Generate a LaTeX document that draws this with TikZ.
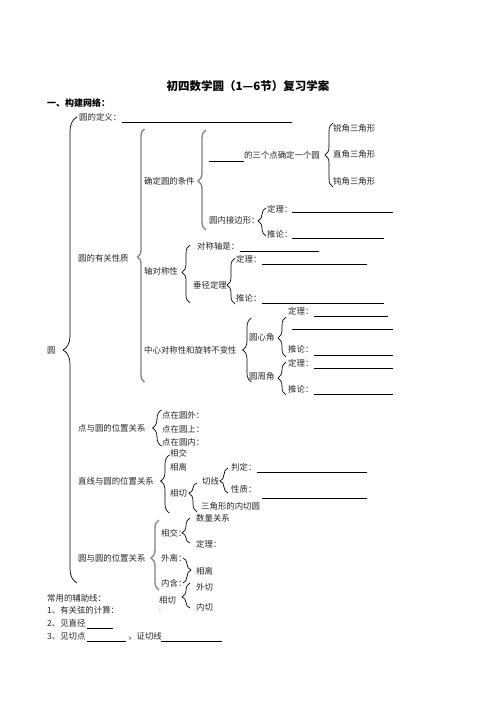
\documentclass[tikz,border=0pt]{standalone}
\usepackage{fontspec}
\setmainfont{Liberation Serif}
\newfontfamily\cjk{Noto Sans CJK SC}
\usetikzlibrary{decorations.pathreplacing}
\newcommand\Br[6][brc]{\draw[#1=#6,decoration={aspect=#5}] (#2,#4) -- (#2,#3);}
\begin{document}
\begin{tikzpicture}[x=1pt,y=-1pt,
  txt/.style={anchor=west,inner sep=0pt,font=\cjk\fontsize{8.4}{10}\selectfont,text=black!85},
  blank/.style={line width=0.9pt},
  brc/.style={decorate,decoration={brace,amplitude=#1},line width=0.7pt},
  gbrc/.style={brc=#1,draw=gray,line width=1.3pt}]
\useasboundingbox[fill=white] (0,0) rectangle (496,702);
% title
\node[inner sep=0pt,font=\cjk\bfseries\fontsize{11.5}{14}\selectfont] (title) at (248,86) {初四数学圆（1—6节）复习学案};
\node[txt,font=\cjk\bfseries\fontsize{9}{11}\selectfont,text=black] (head) at (47,103) {一、构建网络：};
% root
\node[txt] (yuan) at (47,350) {圆};
\Br{77}{117}{583}{0.5}{14}
% level 1
\node[txt] (def) at (79,117) {圆的定义：};
\draw[blank] (122,122) -- (292,122);
\node[txt] (prop) at (78,258) {圆的有关性质};
\Br[gbrc]{144.5}{129}{382}{0.494}{7}
\node[txt] (cond) at (144,181) {确定圆的条件};
\Br[gbrc]{206}{130}{230}{0.49}{8}
\draw[blank] (209,161) -- (244,161);
\node[txt] (three) at (244,155) {的三个点确定一个圆};
\Br{333}{123}{187}{0.5}{8}
\node[txt] (rui) at (333,128) {锐角三角形};
\node[txt] (zhi) at (333,154) {直角三角形};
\node[txt] (dun) at (333,181) {钝角三角形};
\node[txt] (nei) at (209,220) {圆内接边形：};
\Br{266}{208}{236}{0.54}{8}
\node[txt] (d1) at (267,209) {定理：};
\draw[blank] (292,212) -- (393,212);
\node[txt] (t1) at (267,234) {推论：};
\draw[blank] (292,238) -- (384,238);
\node[txt] (axis) at (144,271) {轴对称性};
\Br{190}{245}{303}{0.53}{8}
\node[txt] (sym) at (197,246) {对称轴是：};
\draw[blank] (240,251) -- (319,251);
\node[txt] (cj) at (193,285) {垂径定理};
\Br{235}{258}{304}{0.41}{8}
\node[txt] (d2) at (236,259) {定理：};
\draw[blank] (262,264) -- (367,264);
\node[txt] (t2) at (236,298) {推论：};
\draw[blank] (262,303) -- (384,303);
\node[txt] (center) at (144,350) {中心对称性和旋转不变性};
\Br{251.5}{318}{382}{0.5}{9}
\node[txt] (xin) at (249,337) {圆心角};
\Br{286}{317}{357}{0.475}{8}
\node[txt] (d3) at (288,311) {定理：};
\draw[blank] (314,316) -- (388,316);
\draw[blank] (292,329) -- (393,329);
\node[txt] (t3) at (288,349) {推论：};
\draw[blank] (314,355) -- (393,355);
\node[txt] (zhou) at (249,376) {圆周角};
\Br{286}{362}{395}{0.515}{8}
\node[txt] (d4) at (288,363) {定理：};
\draw[blank] (314,368) -- (393,368);
\node[txt] (t4) at (288,389) {推论：};
\draw[blank] (314,394) -- (393,394);
% point and circle
\node[txt] (pt) at (78,428) {点与圆的位置关系};
\Br{161.5}{410}{446}{0.5}{9}
\node[txt] (p1) at (162,415) {点在圆外：};
\node[txt] (p2) at (162,429) {点在圆上：};
\node[txt] (p3) at (162,442) {点在圆内：};
% line and circle
\node[txt] (ln) at (78,481) {直线与圆的位置关系};
\Br{169.5}{455}{513}{0.55}{9}
\node[txt] (l1) at (170,453) {相交};
\node[txt] (l2) at (170,467) {相离};
\node[txt] (l3) at (170,493) {相切};
\Br{197}{483}{512}{0.655}{8}
\node[txt] (qx) at (202,481) {切线};
\Br{228}{468}{493}{0.48}{8}
\node[txt] (pd) at (231,467) {判定：};
\draw[blank] (257,472) -- (367,472);
\node[txt] (xz) at (231,489) {性质：};
\draw[blank] (262,498) -- (367,498);
\node[txt] (nq) at (201,506) {三角形的内切圆};
% circle and circle
\node[txt] (cc) at (78,558) {圆与圆的位置关系};
\Br[gbrc]{159}{520}{590}{0.457}{8}
\node[txt] (c1) at (161,533) {相交：};
\Br{190}{518}{543}{0.4}{8}
\node[txt] (c11) at (196,518) {数量关系};
\node[txt] (c12) at (196,544) {定理：};
\node[txt] (c2) at (161,558) {外离：};
\node[txt] (c3) at (161,583) {内含：};
\draw[brc=8,decoration={aspect=0.48}] (183,558) -- (183,583);
\node[txt] (c4) at (196,571) {相离};
\node[txt] (c5) at (159,600) {相切};
\node[txt,font=\fontsize{5}{6}\selectfont] (c5d) at (159,611) {-};
\Br{190}{583}{608}{0.44}{8}
\node[txt] (c6) at (196,587) {外切};
\node[txt] (c7) at (196,607) {内切};
% bottom
\node[txt] (aux) at (47,598) {常用的辅助线：};
\node[txt] (a1) at (47,610) {1、有关弦的计算：};
\node[txt] (a2) at (47,623) {2、见直径};
\draw[blank] (87,628) -- (113,628);
\node[txt] (a3) at (47,636) {3、见切点};
\draw[blank] (87,641) -- (126,641);
\node[txt] (a4) at (128,636) {，证切线};
\draw[blank] (161,641) -- (222,641);
\end{tikzpicture}
\end{document}
